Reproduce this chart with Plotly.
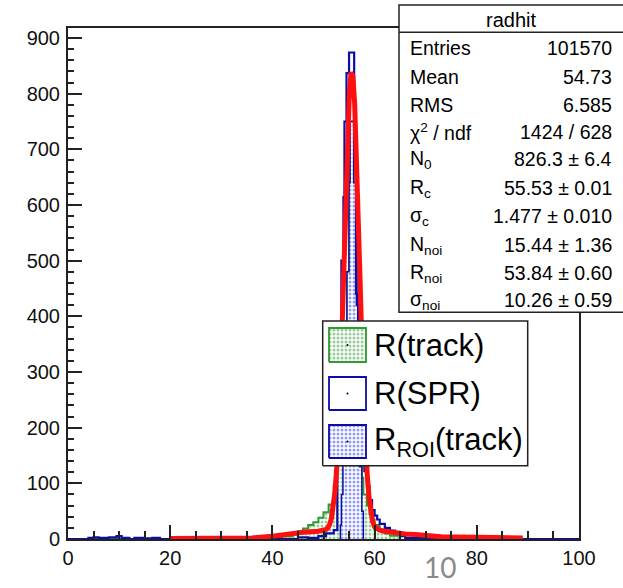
import plotly.graph_objects as go

# ---------------- data ----------------
# R(SPR): step histogram, bin edges and counts
spr_edges = [0, 4, 5, 6, 8, 9.5, 10.5, 12, 13, 15, 16.5, 18, 33, 35, 45, 47, 49, 50.5,
             52, 52.7, 53.2, 53.5, 53.9, 54.1, 54.5, 55.0, 56.0, 56.5, 57.0, 57.5, 58.0,
             58.5, 59.0, 59.5, 60.0, 60.5, 61.0, 62.0, 63.0, 64.0, 65.0, 66.0, 70.0, 100]
spr_counts = [0, 2, 3, 2, 3, 5, 2, 0, 2, 1, 2, 0, 2, 0, 3, 2, 5, 10,
              16, 160, 330, 500, 614, 750, 837, 874, 700, 420, 240, 150,
              122, 95, 70, 52, 42, 35, 27, 20, 15, 11, 5, 2, 0]

# R(track): step histogram
trk_edges = [0, 30, 33, 36, 42, 44, 45, 46, 47, 48, 49, 50, 51, 52, 52.5, 53.3, 53.8,
             54.2, 54.6, 55.0, 55.2, 55.9, 56.3, 56.7, 57.1, 57.5, 57.8, 58.5, 59.0,
             59.5, 60.0, 61.0, 62.0, 63.0, 65.0]
trk_counts = [0, 2, 1, 3, 5, 8, 14, 19, 25, 30, 38, 48, 62, 95, 140, 170,
              220, 330, 480, 640, 750, 640, 440, 260, 150, 110, 80, 60,
              45, 35, 25, 15, 10, 6]

# R_ROI(track): step histogram
roi_edges = [53.3, 53.5, 53.8, 54.2, 54.6, 55.0, 55.2, 55.9, 56.3, 56.7, 57.1, 57.5, 57.8]
roi_counts = [25, 80, 180, 330, 480, 640, 750, 640, 440, 260, 130, 50]

fit_x = [20, 30, 36, 40, 43, 46, 49, 50.5, 50.85, 51.2, 51.55, 51.9, 52.25, 52.6, 52.95,
         53.3, 53.65, 54.0, 54.35, 54.7, 55.05, 55.4, 55.75, 56.1, 56.45, 56.8, 57.15,
         57.5, 57.85, 58.2, 58.55, 58.9, 59.25, 59.6, 60.0, 61, 62, 64, 66, 68, 70, 73,
         80, 89]
fit_y = [1, 1, 2, 5, 9, 12, 14, 17, 20, 26, 37, 55, 85, 130, 194,
         279, 383, 498, 615, 721, 799, 838, 832, 782, 696, 586, 468,
         355, 256, 176, 117, 76, 49, 32, 22, 16, 14, 11, 9, 8, 6, 4,
         3, 2]

x_ticks = [0, 20, 40, 60, 80, 100]
y_ticks = [0, 100, 200, 300, 400, 500, 600, 700, 800, 900]

stats_title = "radhit"
stats_labels = ["Entries", "Mean", "RMS", "χ<sup>2</sup> / ndf", "N<sub>0</sub>",
                "R<sub>c</sub>", "σ<sub>c</sub>", "N<sub>noi</sub>", "R<sub>noi</sub>",
                "σ<sub>noi</sub>"]
stats_values = ["101570", "54.73", "6.585", "1424 / 628", "826.3 ± 6.4",
                "55.53 ± 0.01", "1.477 ± 0.010", "15.44 ± 1.36", "53.84 ± 0.60",
                "10.26 ± 0.59"]
legend_labels = ["R(track)", "R(SPR)", "R<sub>ROI</sub>(track)"]

# ---------------- styling ----------------
W, H = 623, 588
ML, MR, MT, MB = 68, 44, 28, 49
PW, PH = W - ML - MR, H - MT - MB
FONT = "Liberation Sans, Arial, Helvetica, sans-serif"
RED = "#ff1010"
GREEN = "#2f9a2f"
BLUE = "#0c0ca8"
BLUE_DOT = "#2a3ad8"


def fx(px):
    return (px - ML) / PW


def fy(py):
    return (H - MB - py) / PH


def step_xy(edges, counts):
    xs = [edges[0]] + list(edges[:-1]) + [edges[-1]]
    ys = [0] + list(counts) + [0]
    return xs, ys


fig = go.Figure()

gx, gy = step_xy(trk_edges, trk_counts)
fig.add_trace(go.Scatter(x=gx, y=gy, mode="lines", line_shape="hv",
                         line=dict(color=GREEN, width=2), fill="tozeroy",
                         fillpattern=dict(shape=".", fgcolor=GREEN, bgcolor="rgba(0,0,0,0)",
                                          size=4, solidity=0.45),
                         name="R(track)"))

rx, ry = step_xy(roi_edges, roi_counts)
fig.add_trace(go.Scatter(x=rx, y=ry, mode="lines", line_shape="hv",
                         line=dict(color=BLUE, width=1.5), fill="tozeroy",
                         fillpattern=dict(shape=".", fgcolor=BLUE_DOT, bgcolor="white",
                                          size=4, solidity=0.45),
                         name="R_ROI(track)"))

sx, sy = step_xy(spr_edges, spr_counts)
fig.add_trace(go.Scatter(x=sx, y=sy, mode="lines", line_shape="hv",
                         line=dict(color=BLUE, width=2.2), name="R(SPR)"))

fig.add_trace(go.Scatter(x=fit_x, y=fit_y, mode="lines",
                         line=dict(color=RED, width=5), name="fit"))


# ---------------- legend drawn on an overlay axis (paper-like units) ----------------
def rect(x0, x1, y0, y1):
    return [x0, x1, x1, x0, x0], [y0, y0, y1, y1, y0]


lx, ly = rect(fx(322.7), fx(527.7), fy(465.7), fy(321))
fig.add_trace(go.Scatter(x=lx, y=ly, mode="lines", fill="toself", fillcolor="white",
                         line=dict(color="#222", width=1.5), xaxis="x2", yaxis="y2",
                         hoverinfo="skip"))

rows = [(328, 362), (377, 410), (425, 458)]
box_styles = [
    dict(line=GREEN, pattern=dict(shape=".", fgcolor=GREEN, bgcolor="white", size=4, solidity=0.45)),
    dict(line=BLUE, pattern=None),
    dict(line=BLUE, pattern=dict(shape=".", fgcolor=BLUE_DOT, bgcolor="white", size=4, solidity=0.45)),
]
for (t, b), st in zip(rows, box_styles):
    bx, by = rect(fx(329), fx(366), fy(b), fy(t))
    kw = dict(fillpattern=st["pattern"]) if st["pattern"] else dict(fillcolor="white")
    fig.add_trace(go.Scatter(x=bx, y=by, mode="lines", fill="toself",
                             line=dict(color=st["line"], width=1.8), xaxis="x2", yaxis="y2",
                             hoverinfo="skip", **kw))
    fig.add_trace(go.Scatter(x=[fx(347.5)], y=[fy((t + b) / 2)], mode="markers",
                             marker=dict(color="black", size=2), xaxis="x2", yaxis="y2",
                             hoverinfo="skip"))

annotations = []
for lab, (t, b) in zip(legend_labels, rows):
    annotations.append(dict(x=fx(372), y=fy((t + b) / 2), xref="paper", yref="paper",
                            text=lab, showarrow=False, xanchor="left", yanchor="middle",
                            font=dict(size=31, color="black", family=FONT)))

# ---------------- stats box ----------------
shapes = [
    dict(type="rect", xref="paper", yref="paper", x0=fx(399), x1=fx(640), y0=fy(312.3),
         y1=fy(5), line=dict(color="#222", width=1.5), fillcolor="white", layer="above"),
    dict(type="line", xref="paper", yref="paper", x0=fx(399), x1=fx(640), y0=fy(32.3),
         y1=fy(32.3), line=dict(color="#222", width=1.5), layer="above"),
]
annotations.append(dict(x=fx(511), y=fy(19.5), xref="paper", yref="paper", text=stats_title,
                        showarrow=False, xanchor="center", yanchor="middle",
                        font=dict(size=20, color="black", family=FONT)))
row_y = [48.3, 76.7, 105, 131.7, 159.3, 188.3, 216, 245, 273, 300]
for lab, val, py in zip(stats_labels, stats_values, row_y):
    annotations.append(dict(x=fx(408), y=fy(py), xref="paper", yref="paper", text=lab,
                            showarrow=False, xanchor="left", yanchor="middle",
                            font=dict(size=19.5, color="black", family=FONT)))
    annotations.append(dict(x=fx(614), y=fy(py), xref="paper", yref="paper", text=val,
                            showarrow=False, xanchor="right", yanchor="middle",
                            font=dict(size=19.5, color="black", family=FONT)))

# slide page number
annotations.append(dict(x=fx(440), y=fy(567), xref="paper", yref="paper", text="10",
                        showarrow=False, xanchor="center", yanchor="middle",
                        font=dict(size=28, color="#8a8a8a", family="Lato, Liberation Sans, sans-serif")))

axis_common = dict(showline=True, linecolor="#222", linewidth=2, mirror=True, showgrid=False,
                   zeroline=False, ticks="inside", tickcolor="#222", tickwidth=1.5, ticklen=14,
                   tickfont=dict(size=20, color="#111", family=FONT))

fig.update_layout(
    width=W, height=H, margin=dict(l=ML, r=MR, t=MT, b=MB),
    plot_bgcolor="white", paper_bgcolor="white", showlegend=False,
    font=dict(family=FONT, color="black"),
    xaxis=dict(range=[0, 100], tickvals=x_ticks, ticktext=[str(v) for v in x_ticks],
               minor=dict(ticks="inside", ticklen=8, dtick=5, tick0=0, tickcolor="#222",
                          tickwidth=1.5),
               **axis_common),
    yaxis=dict(range=[0, 918], tickvals=y_ticks, ticktext=[str(v) for v in y_ticks],
               minor=dict(ticks="inside", ticklen=6, dtick=20, tick0=0, tickcolor="#222",
                          tickwidth=1.5),
               ticklabelstandoff=2,
               **axis_common),
    xaxis2=dict(overlaying="x", range=[0, 1], visible=False, anchor="y2"),
    yaxis2=dict(overlaying="y", range=[0, 1], visible=False, anchor="x2"),
    shapes=shapes, annotations=annotations,
)

fig.write_html("out.html", config={"displayModeBar": False},
               post_script="document.body.style.margin='0px';document.body.style.overflow='hidden';")
